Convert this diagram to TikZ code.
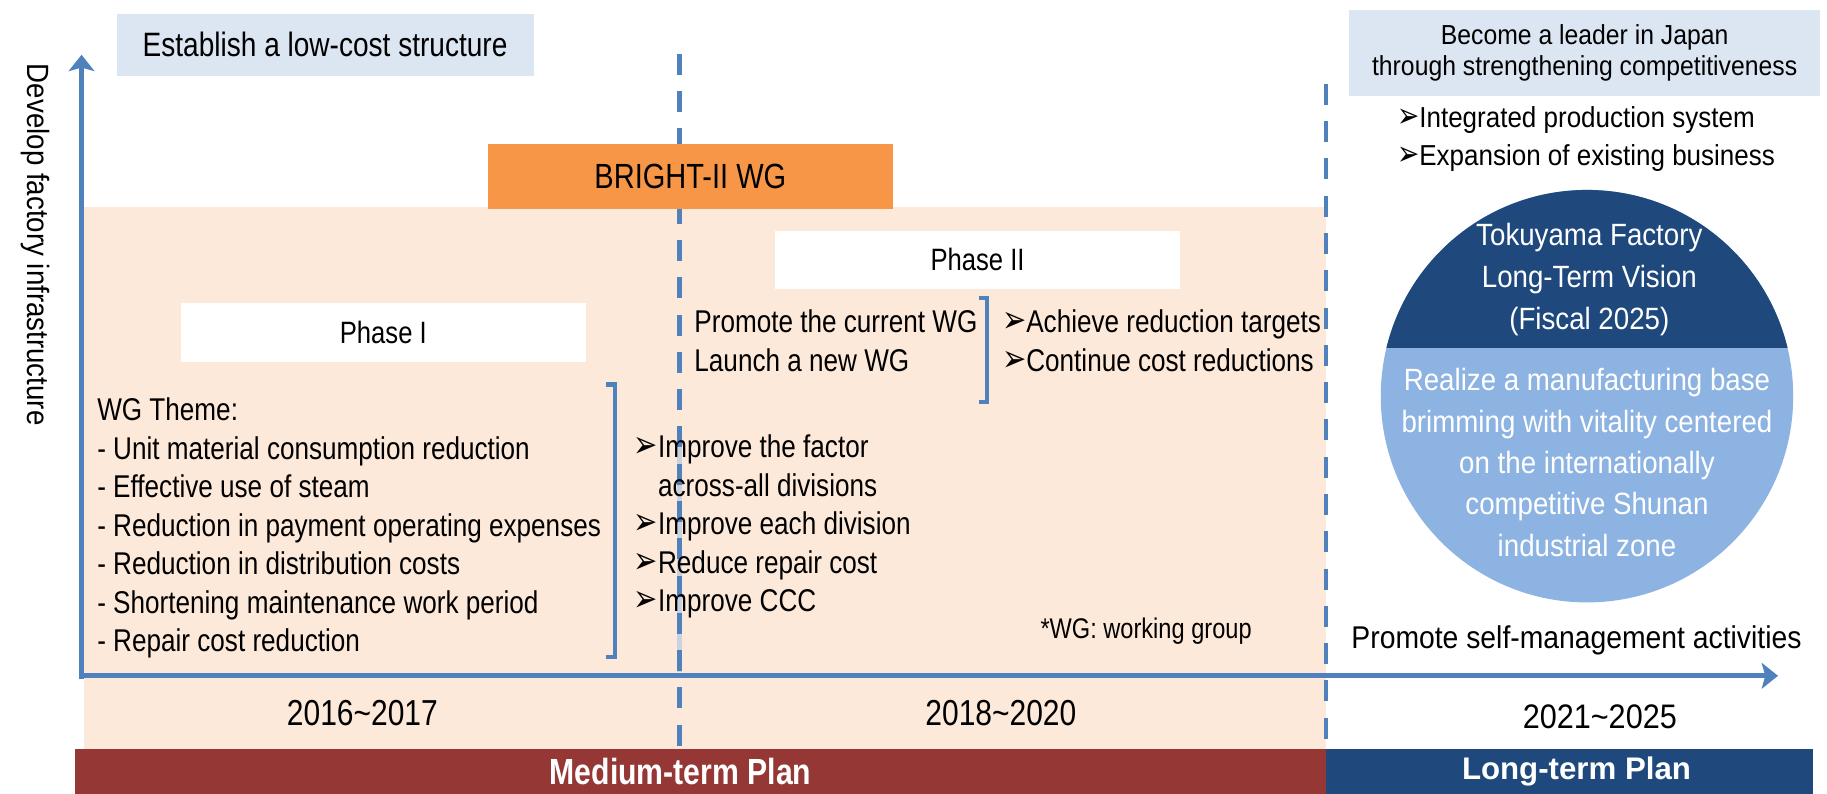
\documentclass[tikz,border=0pt]{standalone}
\usepackage{fontspec}
\usepackage{graphicx}
\setmainfont{Liberation Sans}
\newfontfamily\narrow[FakeStretch=0.83]{Liberation Sans}
\newfontfamily\semi[FakeStretch=0.9]{Liberation Sans}
\newfontfamily\dejavu{DejaVu Sans}
\usetikzlibrary{arrows.meta}
\definecolor{axisblue}{HTML}{4F81BD}
\definecolor{paleblue}{HTML}{DCE6F2}
\definecolor{orangeb}{HTML}{F79646}
\definecolor{peach}{HTML}{FDE9D9}
\definecolor{darkred}{HTML}{953735}
\definecolor{navy}{HTML}{1F497D}
\definecolor{skyblue}{HTML}{8DB3E2}
\definecolor{ghost}{HTML}{C9D2DE}
\newcommand\arr{\scalebox{0.92}[1.2]{\dejavu\symbol{"27A2}}}
\begin{document}
\begin{tikzpicture}[x=0.5pt,y=-0.5pt,
  txt/.style={inner sep=0pt,outer sep=0pt},
  filledbox/.style={inner sep=0pt,outer sep=0pt,draw=none},
  axisline/.style={draw=axisblue,line width=2pt,-{Stealth[length=7pt,width=11pt,inset=1.5pt]}},
  dashline/.style={draw=axisblue,line width=2pt,dash pattern=on 9pt off 7pt},
  bracketline/.style={draw=axisblue,line width=1.8pt},
  narrowbody/.style={font=\narrow\fontsize{13.5pt}{16.5pt}\selectfont},
  semibody/.style={font=\semi\fontsize{12.4pt}{16.5pt}\selectfont},
]
\useasboundingbox (0,0) rectangle (1568,681);
% background regions
\fill[peach] (72,178) rectangle (1138,643);
\fill[darkred] (64,643) rectangle (1138,681);
\fill[navy] (1138,643) rectangle (1556,681);
% dashed separators
\coordinate (d1top) at (583,46);
\coordinate (d1bot) at (583,643);
\coordinate (d2top) at (1138,72);
\coordinate (d2bot) at (1138,643);
\draw[ghost,line width=2pt] (583,366) -- (583,577);
\draw[dashline] (d1top) -- (d1bot);
\draw[dashline] (d2top) -- (d2bot);
% axes
\coordinate (ybot) at (70,583);
\coordinate (ytip) at (70,47);
\coordinate (xleft) at (68,580);
\coordinate (xtip) at (1526,580);
\draw[axisline] (ybot) -- (ytip);
\draw[axisline] (xleft) -- (xtip);
% boxes
\node[filledbox,fill=paleblue,minimum width=179pt,minimum height=26.5pt,
  font=\narrow\fontsize{14.5pt}{17pt}\selectfont] (estab) at (279,38.5) {Establish a low-cost structure};
\node[filledbox,fill=orangeb,minimum width=173.5pt,minimum height=27.5pt,
  font=\narrow\fontsize{15pt}{18pt}\selectfont] (bright) at (592.5,151.5) {BRIGHT-II WG};
\node[filledbox,fill=white,minimum width=174pt,minimum height=25.5pt,
  font=\narrow\fontsize{13.25pt}{16pt}\selectfont] (phase1) at (329,285.5) {Phase I};
\node[filledbox,fill=white,minimum width=174pt,minimum height=25pt,
  font=\narrow\fontsize{13.25pt}{16pt}\selectfont] (phase2) at (839,223) {Phase II};
\node[filledbox,fill=paleblue,minimum width=202pt,minimum height=36.5pt,align=center,
  font=\semi\fontsize{11.8pt}{13.6pt}\selectfont] (become) at (1360,45.5) {Become a leader in Japan\\through strengthening competitiveness};
% brackets
\draw[bracketline] (520,330) -- (528,330) -- (528,564) -- (520,564);
\draw[bracketline] (840,256) -- (847,256) -- (847,345) -- (840,345);
% left texts
\node[txt,anchor=west,align=left,narrowbody] (theme) at (83.5,453.25)
  {WG Theme:\\- Unit material consumption reduction\\- Effective use of steam\\- Reduction in payment operating expenses\\- Reduction in distribution costs\\- Shortening maintenance work period\\- Repair cost reduction};
\node[txt,anchor=west,align=left,narrowbody] (improve) at (544,452)
  {\arr Improve the factor\\\hphantom{\arr}across-all divisions\\\arr Improve each division\\\arr Reduce repair cost\\\arr Improve CCC};
\node[txt,anchor=west,align=left,narrowbody] (promote) at (596,292.5)
  {Promote the current WG\\Launch a new WG};
\node[txt,anchor=west,align=left,narrowbody] (achieve) at (860,292.5)
  {\arr Achieve reduction targets\\\arr Continue cost reductions};
\node[txt,anchor=west,font=\narrow\fontsize{12.2pt}{14pt}\selectfont] (note) at (893,542) {*WG: working group};
\node[txt,font=\narrow\fontsize{15.5pt}{18pt}\selectfont] (y1) at (311,612) {2016\textasciitilde2017};
\node[txt,font=\narrow\fontsize{15.5pt}{18pt}\selectfont] (y2) at (859,612) {2018\textasciitilde2020};
\node[txt,font=\semi\fontsize{14.6pt}{17pt}\selectfont] (y3) at (1373,615) {2021\textasciitilde2025};
\node[txt,text=white,font=\narrow\bfseries\fontsize{15.6pt}{18pt}\selectfont] (mid) at (584,662) {Medium-term Plan};
\node[txt,text=white,font=\bfseries\fontsize{13.4pt}{16pt}\selectfont] (long) at (1353,662) {Long-term Plan};
\node[txt,rotate=-90,font=\semi\fontsize{13.2pt}{16pt}\selectfont] (develop) at (30,210) {Develop factory infrastructure};
% right texts
\node[txt,anchor=west,align=left,semibody] (integ) at (1199,119.5)
  {\arr Integrated production system\\\arr Expansion of existing business};
\coordinate (C) at (1362,340);
\begin{scope}
\clip (C) circle[radius=88.5pt];
\fill[skyblue] (1180,150) rectangle (1545,530);
\fill[navy] (1180,150) rectangle (1545,299);
\end{scope}
\node[txt,text=white,align=center,font=\semi\fontsize{13.2pt}{18pt}\selectfont] (vision) at (1364,240)
  {Tokuyama Factory\\Long-Term Vision\\(Fiscal 2025)};
\node[txt,text=white,align=center,font=\semi\fontsize{13.2pt}{17.75pt}\selectfont] (realize) at (1362,397)
  {Realize a manufacturing base\\brimming with vitality centered\\on the internationally\\competitive Shunan\\industrial zone};
\node[txt,font=\semi\fontsize{13.5pt}{16pt}\selectfont] (selfm) at (1353,550) {Promote self-management activities};
\end{tikzpicture}
\end{document}
